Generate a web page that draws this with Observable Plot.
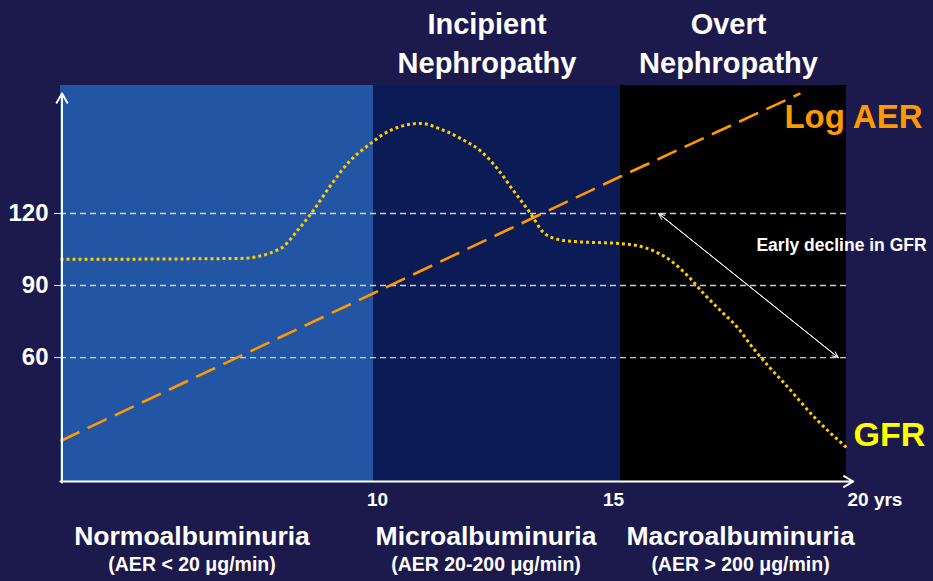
<!DOCTYPE html>
<html>
<head>
<meta charset="utf-8">
<script src="https://cdn.jsdelivr.net/npm/d3@7"></script>
<script src="https://cdn.jsdelivr.net/npm/@observablehq/plot@0.6"></script>
<style>
  html, body { margin: 0; padding: 0; background: #1c1a4d; overflow: hidden; }
</style>
</head>
<body>
<div id="chart"></div>
<script>
// Natural history of diabetic nephropathy: GFR and log AER over years of diabetes.

// Phases of albuminuria along the time axis (years)
const phaseNames = ["Normoalbuminuria", "Microalbuminuria", "Macroalbuminuria"];
const phaseAER = ["(AER < 20 \u03bcg/min)", "(AER 20-200 \u03bcg/min)", "(AER > 200 \u03bcg/min)"];
const phaseStages = ["", "Incipient\nNephropathy", "Overt\nNephropathy"];
const phaseBounds = [0, 10, 15, 20];

// Axis ticks
const xTicks = [10, 15, 20];
const xTickLabels = ["10", "15", "20 yrs"];
const yTicks = [60, 90, 120];

// GFR (ml/min) over time
const gfrYear  = [0, 5.75, 7.03, 7.57, 8.08, 8.63, 9.17, 9.9, 10.34, 10.95, 11.42, 11.82, 12.17, 12.51,
                  12.83, 13.18, 13.44, 13.74, 14.1, 14.53, 15.0, 15.6, 16.11, 16.48, 16.84, 17.21, 17.59,
                  17.94, 18.32, 18.61, 19.36, 20];
const gfrValue = [100.9, 101.3, 105.4, 112.9, 121.3, 131.7, 140.8, 149.1, 154.6, 157.5, 154.6, 150.6, 146.0, 138.6,
                  129.6, 120.0, 112.1, 109.2, 108.3, 107.9, 107.5, 105.4, 100.4, 94.2, 86.7, 79.6, 72.5,
                  63.8, 55.5, 49.6, 33.8, 22.6];

// Log AER (same vertical scale, schematic straight rise)
const aerYear  = [0, 10, 15, 18.98];
const aerValue = [25.3, 86.8, 135.4, 170];

// "Early decline in GFR" annotation: from GFR 120 down to 60
const declineFrom = [15.84, 120];
const declineTo = [19.82, 60];
const declineText = "Early decline in GFR";

// ---- tables built from the arrays above
const phases = phaseNames.map((name, i) => ({
  name, aer: phaseAER[i], stage: phaseStages[i],
  x1: phaseBounds[i], x2: phaseBounds[i + 1], mid: (phaseBounds[i] + phaseBounds[i + 1]) / 2
}));
const gfr = gfrYear.map((t, i) => ({t, v: gfrValue[i]}));
const aer = aerYear.map((t, i) => ({t, v: aerValue[i]}));
const ticks = xTicks.map((t, i) => ({t, label: xTickLabels[i]}));
const decline = [{x1: declineFrom[0], y1: declineFrom[1], x2: declineTo[0], y2: declineTo[1]}];

// ---- styling
const FONT = "'Liberation Sans', Arial, Helvetica, sans-serif";
const phaseFill = ["#2255a4", "#0b1b56", "#000000"];
const labelShift = [-25, -11, 7];
const stageShift = [0, -10, -5];
const tickShift = [4, -7];
const yMin = 8, yMax = 173.3;

const marks = [
  // phase backgrounds
  ...phases.map((p, i) => Plot.rect([p], {x1: "x1", x2: "x2", y1: yMin, y2: yMax, fill: phaseFill[i]})),

  // reference lines
  Plot.ruleY(yTicks, {stroke: "#dde3ee", strokeWidth: 1.4, strokeDasharray: "6,4", strokeOpacity: 0.9}),

  // Log AER
  Plot.line(aer, {x: "t", y: "v", stroke: "#ff9900", strokeWidth: 2.6, strokeDasharray: "21,9", strokeLinecap: "butt"}),

  // GFR
  Plot.line(gfr, {x: "t", y: "v", curve: "monotone-x", stroke: "#ffcc00", strokeWidth: 3,
                  strokeDasharray: "3,3", strokeLinecap: "butt"}),

  // axes with arrowheads
  Plot.arrow([{x1: 0, y1: yMin, x2: 0, y2: 170}], {x1: "x1", y1: "y1", x2: "x2", y2: "y2",
    stroke: "white", strokeWidth: 2, headLength: 8, headAngle: 60, dx: 1.5}),
  Plot.arrow([{x1: 0, y1: yMin, x2: 20.15, y2: yMin}], {x1: "x1", y1: "y1", x2: "x2", y2: "y2",
    stroke: "white", strokeWidth: 2, headLength: 8, headAngle: 60, dy: -1}),

  Plot.axisY(yTicks, {anchor: "left", tickSize: 6, tickPadding: 6, fontSize: 24, fontWeight: "bold",
    stroke: "#dde3ee", fill: "white", label: null}),

  // x tick labels
  ...ticks.filter(d => d.t < 20).map((d, i) => Plot.text([d], {x: "t", text: "label", frameAnchor: "bottom",
    lineAnchor: "bottom", dy: 23, dx: tickShift[i], fontSize: 19, fill: "white"})),
  Plot.text(ticks.filter(d => d.t === 20), {x: "t", text: "label", frameAnchor: "bottom", lineAnchor: "bottom",
    textAnchor: "start", dy: 23, dx: 1, fontSize: 19, fill: "white"}),

  // early decline annotation (double-headed)
  Plot.arrow(decline, {x1: "x1", y1: "y1", x2: "x2", y2: "y2", stroke: "white", strokeWidth: 1, headLength: 10, headAngle: 45}),
  Plot.arrow(decline, {x1: "x2", y1: "y2", x2: "x1", y2: "y1", stroke: "white", strokeWidth: 1, headLength: 10, headAngle: 45}),
  Plot.text(decline, {x: d => (d.x1 + d.x2) / 2, y: d => (d.y1 + d.y2) / 2, text: () => declineText,
    textAnchor: "start", dx: 8, dy: -40, fontSize: 17.5, fill: "white"}),

  // series labels
  Plot.text(aer.slice(-1), {x: "t", y: "v", text: () => "Log AER", textAnchor: "start", dx: -16, dy: 24,
    fontSize: 33, fill: "#ff9900"}),
  Plot.text(gfr.slice(-1), {x: "t", y: "v", text: () => "GFR", textAnchor: "start", dx: 7, dy: -12,
    fontSize: 34, fill: "#ffff00"}),

  // phase labels below and stage titles above
  ...phases.flatMap((p, i) => [
    Plot.text([p], {x: "mid", text: "name", frameAnchor: "bottom", lineAnchor: "bottom",
      dy: 62, dx: labelShift[i], fontSize: 26.5, fill: "white"}),
    Plot.text([p], {x: "mid", text: "aer", frameAnchor: "bottom", lineAnchor: "bottom",
      dy: 88, dx: labelShift[i], fontSize: 19.5, fill: "white"}),
    Plot.text([p].filter(d => d.stage), {x: "mid", text: "stage", frameAnchor: "top", lineAnchor: "bottom",
      dy: -13, dx: stageShift[i], fontSize: 29, lineHeight: 1.345, fill: "white"})
  ])
];

const chart = Plot.plot({
  width: 933,
  height: 581,
  marginLeft: 60,
  marginRight: 87,
  marginTop: 85,
  marginBottom: 99,
  style: {background: "#1c1a4d", color: "white", fontFamily: FONT, fontWeight: "bold"},
  x: {type: "linear", domain: phaseBounds, range: [60, 373, 620, 846], axis: null},
  y: {domain: [yMin, yMax], axis: null},
  marks
});

document.getElementById("chart").appendChild(chart);
</script>
</body>
</html>
